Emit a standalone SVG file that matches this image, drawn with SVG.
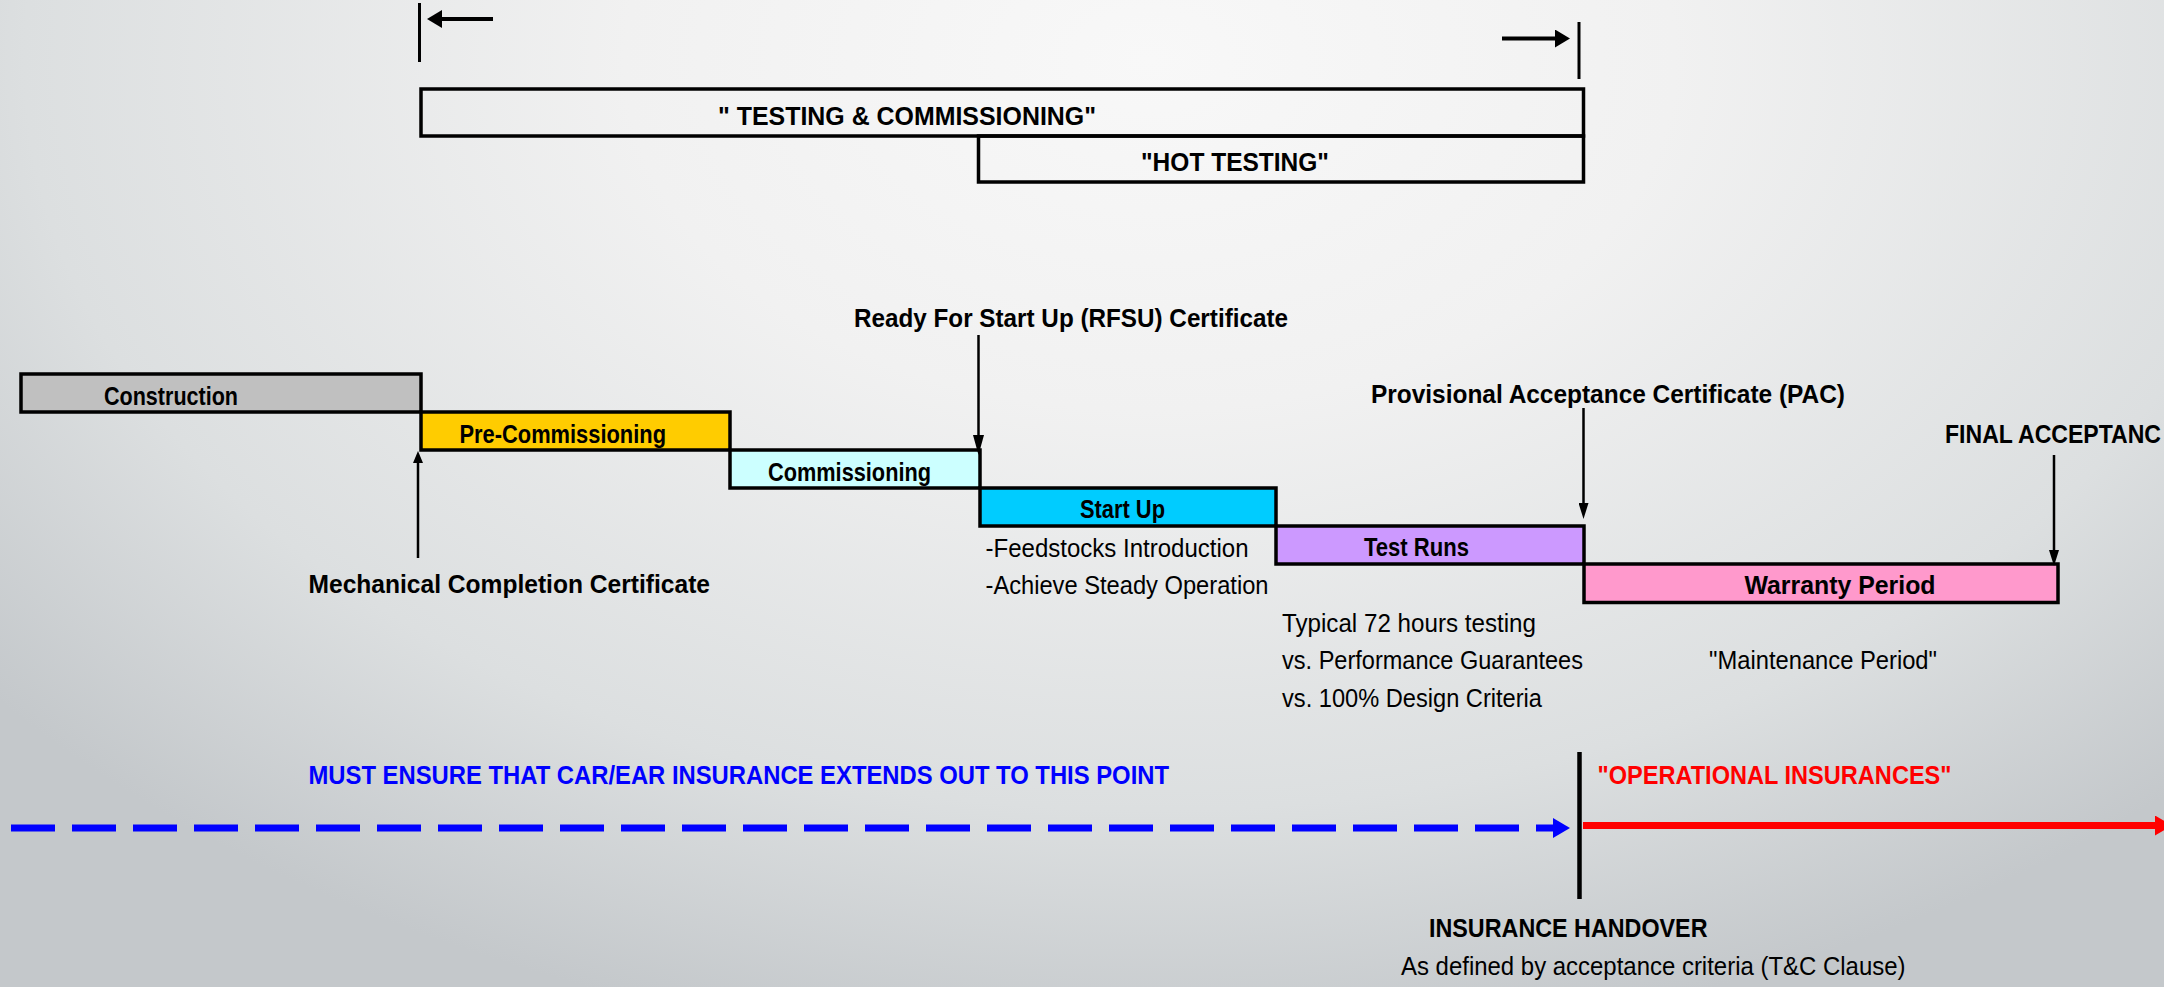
<svg xmlns="http://www.w3.org/2000/svg" width="2164" height="987" viewBox="0 0 2164 987">
  <defs>
    <radialGradient id="bg" gradientUnits="userSpaceOnUse" cx="1150" cy="60" r="1000" gradientTransform="translate(1150 60) scale(1.5 1) translate(-1150 -60)">
      <stop offset="0" stop-color="#f8f8f8"/>
      <stop offset="0.35" stop-color="#f1f1f1"/>
      <stop offset="0.75" stop-color="#dcdfe0"/>
      <stop offset="1" stop-color="#c4c8cb"/>
    </radialGradient>
    <marker id="ah20" viewBox="0 0 20 11" refX="0" refY="5.5" markerWidth="20" markerHeight="11" markerUnits="userSpaceOnUse" orient="auto">
      <path d="M0,0 L20,5.5 L0,11 Z" fill="#000"/>
    </marker>
    <marker id="ah16" viewBox="0 0 16 10" refX="0" refY="5" markerWidth="16" markerHeight="10" markerUnits="userSpaceOnUse" orient="auto">
      <path d="M0,0 L16,5 L0,10 Z" fill="#000"/>
    </marker>
    <marker id="ah12" viewBox="0 0 12 10" refX="0" refY="5" markerWidth="12" markerHeight="10" markerUnits="userSpaceOnUse" orient="auto">
      <path d="M0,0 L12,5 L0,10 Z" fill="#000"/>
    </marker>
    <marker id="ahTop" viewBox="0 0 15 18" refX="0" refY="9" markerWidth="15" markerHeight="18" markerUnits="userSpaceOnUse" orient="auto">
      <path d="M0,0 L15,9 L0,18 Z" fill="#000"/>
    </marker>
    <marker id="ahBlue" viewBox="0 0 17 20" refX="0" refY="10" markerWidth="17" markerHeight="20" markerUnits="userSpaceOnUse" orient="auto">
      <path d="M0,0 L17,10 L0,20 Z" fill="#0000ff"/>
    </marker>
    <marker id="ahRed" viewBox="0 0 17 20" refX="0" refY="10" markerWidth="17" markerHeight="20" markerUnits="userSpaceOnUse" orient="auto">
      <path d="M0,0 L17,10 L0,20 Z" fill="#ff0000"/>
    </marker>
  </defs>
  <style>
    .t { font-family: "Liberation Sans Narrow", "Liberation Sans", Arial, sans-serif; font-size: 26px; fill: #000; }
    .b { font-weight: bold; }
    .box { stroke: #000; stroke-width: 3.5; }
    .ln { stroke: #000; stroke-width: 2.5; fill: none; }
  </style>

  <rect x="0" y="0" width="2164" height="987" fill="url(#bg)"/>

  <!-- Top span -->
  <g id="testing-span">
    <line x1="419.5" y1="3" x2="419.5" y2="62" stroke="#000" stroke-width="3"/>
    <line x1="1579" y1="22" x2="1579" y2="79" stroke="#000" stroke-width="3"/>
  </g>
  <g id="testing-commissioning">
    <rect class="box" x="421" y="89" width="1162.5" height="47" fill="none"/>
    <text class="t b" x="718" y="125" font-size="25" textLength="378" lengthAdjust="spacingAndGlyphs">" TESTING &amp; COMMISSIONING"</text>
  </g>
  <g id="hot-testing">
    <rect class="box" x="978.5" y="136" width="605" height="46" fill="none"/>
    <text class="t b" x="1141" y="171" font-size="25" textLength="188" lengthAdjust="spacingAndGlyphs">"HOT TESTING"</text>
  </g>

  <!-- Phase boxes -->
  <g id="construction">
    <rect class="box" x="21" y="374" width="400" height="38" fill="#c0c0c0"/>
    <text class="t b" x="104" y="405" textLength="134" lengthAdjust="spacingAndGlyphs">Construction</text>
  </g>
  <g id="pre-commissioning">
    <rect class="box" x="421" y="412" width="309" height="38" fill="#ffcc00"/>
    <text class="t b" x="459.5" y="443" textLength="206.5" lengthAdjust="spacingAndGlyphs">Pre-Commissioning</text>
  </g>
  <g id="commissioning">
    <rect class="box" x="730" y="450" width="250" height="38" fill="#ccffff"/>
    <text class="t b" x="768" y="481" textLength="163" lengthAdjust="spacingAndGlyphs">Commissioning</text>
  </g>
  <g id="start-up">
    <rect class="box" x="980" y="488" width="296" height="38" fill="#00ccff"/>
    <text class="t b" x="1080" y="518" textLength="85" lengthAdjust="spacingAndGlyphs">Start Up</text>
    <text class="t" x="985.5" y="557" textLength="263" lengthAdjust="spacingAndGlyphs">-Feedstocks Introduction</text>
    <text class="t" x="985.5" y="594" textLength="283" lengthAdjust="spacingAndGlyphs">-Achieve Steady Operation</text>
  </g>
  <g id="test-runs">
    <rect class="box" x="1276" y="526" width="308" height="38" fill="#cc99ff"/>
    <text class="t b" x="1364" y="556" textLength="105" lengthAdjust="spacingAndGlyphs">Test Runs</text>
    <text class="t" x="1282" y="632" textLength="254" lengthAdjust="spacingAndGlyphs">Typical 72 hours testing</text>
    <text class="t" x="1282" y="669" textLength="301" lengthAdjust="spacingAndGlyphs">vs. Performance Guarantees</text>
    <text class="t" x="1282" y="707" textLength="260" lengthAdjust="spacingAndGlyphs">vs. 100% Design Criteria</text>
  </g>
  <g id="warranty-period">
    <rect class="box" x="1584" y="564" width="474" height="38.5" fill="#ff99cc"/>
    <text class="t b" x="1744.5" y="594" textLength="191" lengthAdjust="spacingAndGlyphs">Warranty Period</text>
    <text class="t" x="1709" y="669" textLength="228" lengthAdjust="spacingAndGlyphs">"Maintenance Period"</text>
  </g>

  <!-- Milestone labels -->
  <g id="mc-certificate">
    <text class="t b" x="308.5" y="593" textLength="401.5" lengthAdjust="spacingAndGlyphs">Mechanical Completion Certificate</text>
  </g>
  <g id="rfsu-certificate">
    <text class="t b" x="854" y="327" textLength="434" lengthAdjust="spacingAndGlyphs">Ready For Start Up (RFSU) Certificate</text>
  </g>
  <g id="pac-certificate">
    <text class="t b" x="1371" y="403" textLength="474" lengthAdjust="spacingAndGlyphs">Provisional Acceptance Certificate (PAC)</text>
  </g>
  <g id="final-acceptance">
    <text class="t b" x="1945" y="443" font-size="28" textLength="216" lengthAdjust="spacingAndGlyphs">FINAL ACCEPTANC</text>
  </g>

  <!-- Insurance -->
  <g id="car-ear-insurance">
    <text class="t b" x="308.5" y="784" font-size="27" style="fill:#0000ff" textLength="860.5" lengthAdjust="spacingAndGlyphs">MUST ENSURE THAT CAR/EAR INSURANCE EXTENDS OUT TO THIS POINT</text>
  </g>
  <g id="operational-insurances">
    <text class="t b" x="1597.5" y="784" font-size="27" style="fill:#ff0000" textLength="354" lengthAdjust="spacingAndGlyphs">"OPERATIONAL INSURANCES"</text>
  </g>
  <g id="insurance-handover">
    <line x1="1579.5" y1="752" x2="1579.5" y2="899" stroke="#000" stroke-width="4.5"/>
    <text class="t b" x="1429" y="937" textLength="278.5" lengthAdjust="spacingAndGlyphs">INSURANCE HANDOVER</text>
    <text class="t" x="1401" y="975" textLength="504.5" lengthAdjust="spacingAndGlyphs">As defined by acceptance criteria (T&amp;C Clause)</text>
  </g>

  <!-- Connectors -->
  <g id="connectors">
    <path d="M493,19 L442,19" stroke="#000" stroke-width="4" fill="none" marker-end="url(#ahTop)"/>
    <path d="M1502,38.5 L1555,38.5" stroke="#000" stroke-width="4" fill="none" marker-end="url(#ahTop)"/>
    <path class="ln" d="M978.5,335 L978.5,435" marker-end="url(#ah20)"/>
    <path class="ln" d="M418,558 L418,463" marker-end="url(#ah12)"/>
    <path class="ln" d="M1583.5,408 L1583.5,503" marker-end="url(#ah16)"/>
    <path class="ln" d="M2054,455 L2054,550" marker-end="url(#ah16)"/>
    <path d="M11,828 L1553,828" stroke="#0000ff" stroke-width="7" stroke-dasharray="44 17" fill="none" marker-end="url(#ahBlue)"/>
    <path d="M1583,825.5 L2155,825.5" stroke="#ff0000" stroke-width="7" fill="none" marker-end="url(#ahRed)"/>
  </g>
</svg>
